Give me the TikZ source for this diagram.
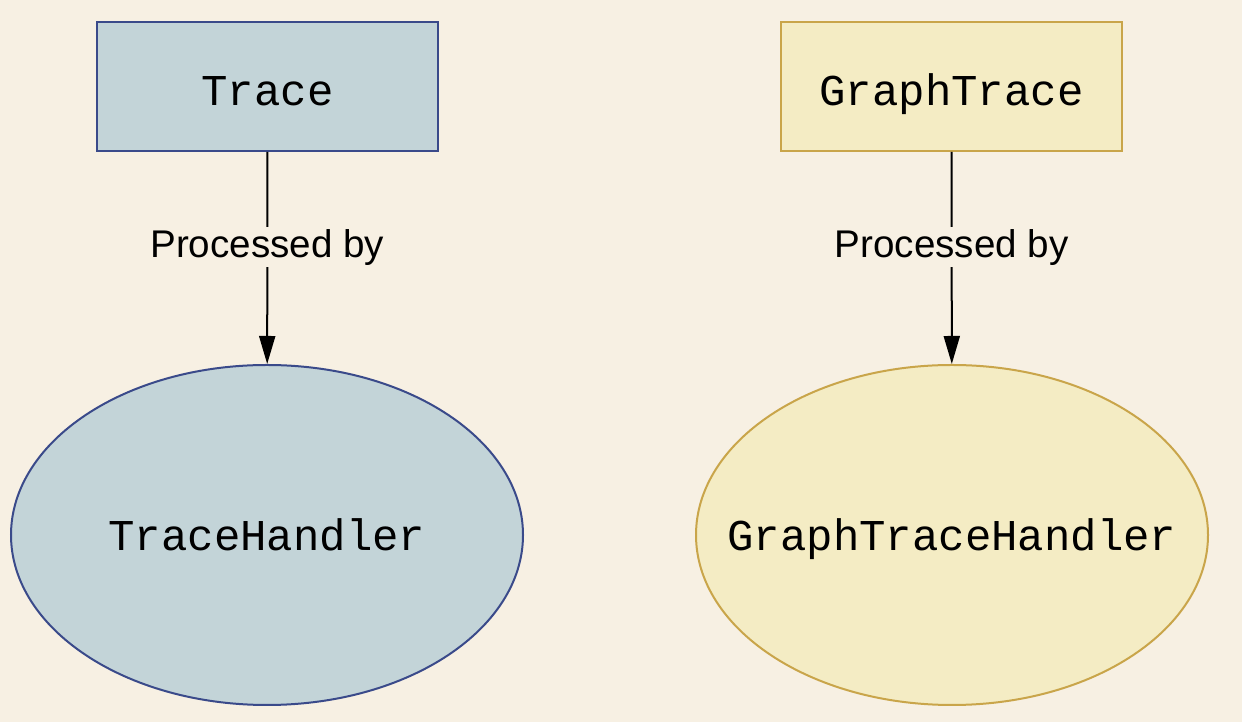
\documentclass[tikz,border=0pt]{standalone}
\usepackage{fontspec}
\setmonofont{Liberation Mono}
\setsansfont{Liberation Sans}
\usetikzlibrary{arrows.meta,shapes.geometric}
\definecolor{bgcol}{HTML}{F7F0E3}
\definecolor{bluefill}{HTML}{C3D4D8}
\definecolor{blueline}{HTML}{3A4A8A}
\definecolor{yellowfill}{HTML}{F4ECC4}
\definecolor{yellowline}{HTML}{C9A54A}
\begin{document}
\begin{tikzpicture}[x=0.5pt,y=0.5pt,
  box/.style={rectangle,draw,line width=1pt,inner sep=0pt,minimum width=170.5pt,minimum height=64.5pt,text height=22pt,text depth=2.5pt,font=\fontsize{22}{26}\selectfont\ttfamily},
  oval/.style={ellipse,draw,line width=1pt,inner sep=0pt,minimum width=256pt,minimum height=170pt,text height=19pt,text depth=3pt,font=\fontsize{22}{26}\selectfont\ttfamily},
  blue/.style={fill=bluefill,draw=blueline},
  yellow/.style={fill=yellowfill,draw=yellowline},
  link/.style={draw=black,line width=1pt,-{Triangle[length=14pt,width=8pt]}},
  linklabel/.style={fill=bgcol,inner sep=1pt,font=\fontsize{19.3}{22}\selectfont\sffamily}
  ]
    \fill[bgcol] (0,0) rectangle (1242,722);
    \useasboundingbox (0,0) rectangle (1242,722);

    % left pair
    \node[box,blue] (trace) at (267.5,635.5) {Trace};
    \node[oval,blue] (tracehandler) at (267,187) {\makebox[0pt]{TraceHandler}};

    % right pair
    \node[box,yellow] (graphtrace) at (951.5,635.5) {GraphTrace};
    \node[oval,yellow] (graphtracehandler) at (952,187) {\makebox[0pt]{GraphTraceHandler}};

    \draw[link] (trace) -- node[linklabel,pos=0.45] {Processed by} (tracehandler);
    \draw[link] (graphtrace) -- node[linklabel,pos=0.45] {Processed by} (graphtracehandler);
\end{tikzpicture}
\end{document}
